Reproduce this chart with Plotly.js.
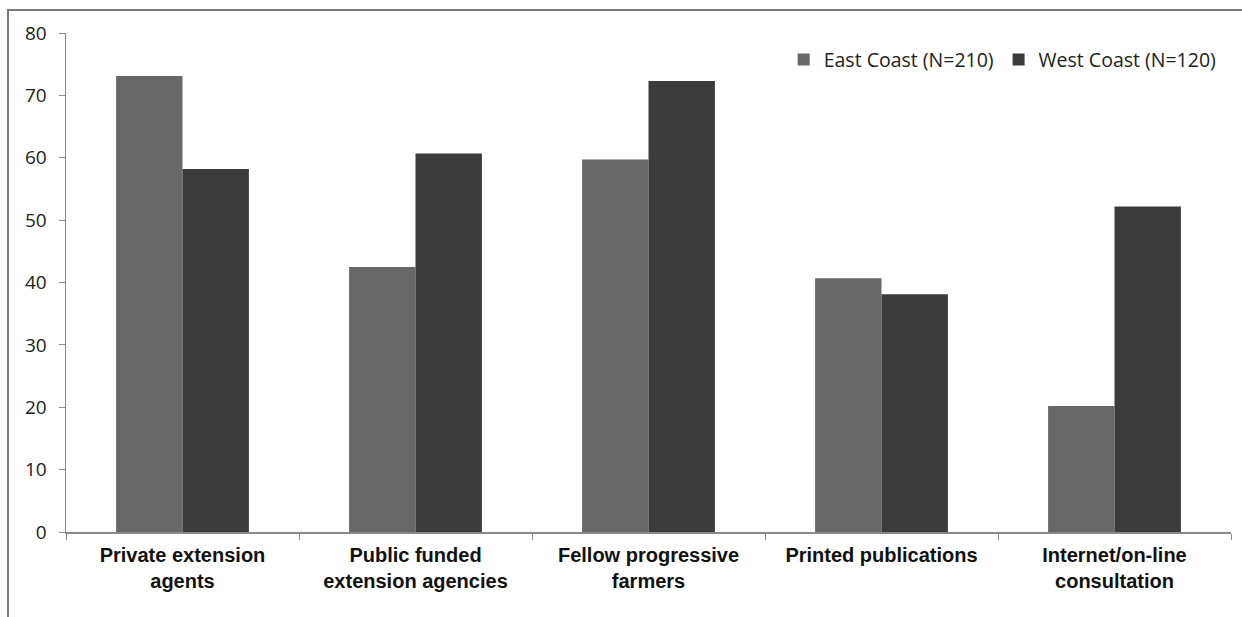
<!DOCTYPE html>
<html>
<head>
<meta charset="utf-8">
<script src="https://cdn.plot.ly/plotly-3.0.1.min.js"></script>
<style>
  html, body { margin: 0; padding: 0; background: #fff; }
  #wrap { position: relative; width: 1242px; height: 617px; }
  #chart { width: 1242px; height: 617px; }
  #frame { position: absolute; left: 7px; top: 9px; right: 0; bottom: 0;
           border-left: 2px solid #7a7a7a; border-top: 2px solid #7a7a7a;
           pointer-events: none; }
</style>
</head>
<body>
<div id="wrap">
  <div id="chart"></div>
  <div id="frame"></div>
</div>
<script>
const categories = [
  "Private extension<br>agents",
  "Public funded<br>extension agencies",
  "Fellow progressive<br>farmers",
  "Printed publications",
  "Internet/on-line<br>consultation"
];
const eastCoast = [73.1, 42.5, 59.7, 40.7, 20.2];
const westCoast = [58.2, 60.7, 72.3, 38.1, 52.2];
const seriesNames = ["East Coast (N=210)", "West Coast (N=120)"];
const yTicks = [0, 10, 20, 30, 40, 50, 60, 70, 80];

const traces = [
  { type: "bar", name: seriesNames[0], x: categories, y: eastCoast,
    marker: { color: "#686868" }, hoverinfo: "none" },
  { type: "bar", name: seriesNames[1], x: categories, y: westCoast,
    marker: { color: "#3b3b3b" }, hoverinfo: "none" }
];

const layout = {
  width: 1242, height: 617,
  margin: { l: 66, r: 11, t: 33, b: 85, pad: 0 },
  paper_bgcolor: "#ffffff", plot_bgcolor: "#ffffff",
  barmode: "group", bargap: 0.43, bargroupgap: 0,
  font: { family: "Open Sans, sans-serif", color: "#222" },
  xaxis: {
    type: "category",
    showline: true, linecolor: "#8a8a8a", linewidth: 1.5,
    ticks: "outside", tickson: "boundaries", ticklen: 6, tickcolor: "#8a8a8a",
    ticklabelstandoff: 4,
    tickfont: { family: "Liberation Sans, Arial, sans-serif", size: 20, color: "#111", weight: "bold" },
    showgrid: false, zeroline: false, fixedrange: true
  },
  yaxis: {
    range: [0, 80], tickvals: yTicks, ticktext: yTicks.map(String),
    showline: true, linecolor: "#8a8a8a", linewidth: 1.5,
    ticks: "outside", ticklen: 6, tickcolor: "#8a8a8a",
    ticklabelstandoff: 8,
    tickfont: { family: "Open Sans, sans-serif", size: 19, color: "#222" },
    showgrid: false, zeroline: false, fixedrange: true
  },
  legend: {
    orientation: "h", x: 0.992, xanchor: "right", y: 0.946, yanchor: "middle",
    font: { family: "Open Sans, sans-serif", size: 19.5, color: "#222" },
    bgcolor: "rgba(0,0,0,0)", tracegroupgap: 0
  },
  showlegend: true
};

Plotly.newPlot("chart", traces, layout, { displayModeBar: false, staticPlot: true });
</script>
</body>
</html>
